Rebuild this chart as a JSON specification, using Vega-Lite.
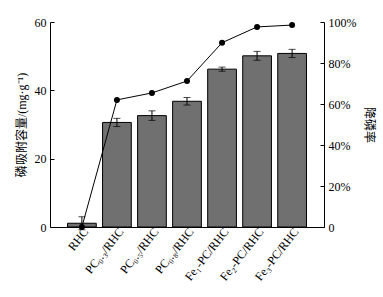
{
  "$schema": "https://vega.github.io/schema/vega-lite/v6.json",
  "autosize": {"type": "none"},
  "padding": {"left": 50, "top": 22, "right": 59, "bottom": 70},
  "width": 274,
  "height": 205,
  "background": "white",
  "config": {
    "view": {"stroke": null},
    "font": "Liberation Serif",
    "axis": {"labelFont": "Liberation Serif", "labelColor": "black", "domainColor": "black", "tickColor": "black", "grid": false, "titleColor": "black", "titleFontWeight": "normal", "labelFontSize": 12}
  },
  "data": {
    "values": [
      {"cat": "RHC", "cap": 1.1, "err": 1.9, "rate": 0},
      {"cat": "PC₀.₃/RHC", "cap": 30.6, "err": 1.2, "rate": 62.0},
      {"cat": "PC₀.₅/RHC", "cap": 32.6, "err": 1.4, "rate": 65.4},
      {"cat": "PC₀.₈/RHC", "cap": 36.8, "err": 1.1, "rate": 71.2},
      {"cat": "Fe₁-PC/RHC", "cap": 46.2, "err": 0.6, "rate": 89.9},
      {"cat": "Fe₂-PC/RHC", "cap": 50.1, "err": 1.3, "rate": 97.6},
      {"cat": "Fe₃-PC/RHC", "cap": 50.8, "err": 1.2, "rate": 98.5}
    ]
  },
  "encoding": {
    "x": {
      "field": "cat", "type": "nominal", "sort": null,
      "scale": {"paddingInner": 0.18, "paddingOuter": 0.5},
      "axis": {"title": null, "labelAngle": -52, "labelAlign": "right", "labelBaseline": "middle", "ticks": false, "labelPadding": 2, "labelOffset": 4, "labelFontSize": 12}
    }
  },
  "layer": [
    {
      "layer": [
        {
          "mark": {"type": "bar", "fill": "#707070", "stroke": "black", "strokeWidth": 1},
          "encoding": {
            "y": {
              "field": "cap", "type": "quantitative",
              "scale": {"domain": [0, 60], "nice": false},
              "axis": {"title": "磷吸附容量/(mg·g⁻¹)", "titleFont": "Liberation Serif, Noto Sans CJK SC", "titleFontSize": 12, "titlePadding": 6, "values": [0, 10, 20, 30, 40, 50, 60], "tickSize": -4, "labelPadding": 8, "orient": "left"}
            }
          }
        },
        {
          "mark": {"type": "errorbar", "ticks": {"size": 7, "color": "black"}, "color": "black", "thickness": 1},
          "encoding": {
            "y": {"field": "cap", "type": "quantitative", "title": "磷吸附容量/(mg·g⁻¹)"},
            "yError": {"field": "err"}
          }
        }
      ]
    },
    {
      "mark": {"type": "line", "color": "black", "strokeWidth": 1, "point": {"filled": true, "color": "black", "size": 36}},
      "encoding": {
        "y": {
          "field": "rate", "type": "quantitative",
          "scale": {"domain": [0, 100], "nice": false},
          "axis": {"orient": "right", "title": "降磷率", "titleFont": "Noto Sans CJK SC", "titleFontSize": 12, "titleAngle": 90, "titlePadding": 6, "values": [0, 20, 40, 60, 80, 100], "labelExpr": "datum.value == 0 ? '0' : datum.value + '%'", "tickSize": -4, "labelPadding": 8}
        }
      }
    }
  ],
  "resolve": {"scale": {"y": "independent"}}
}
